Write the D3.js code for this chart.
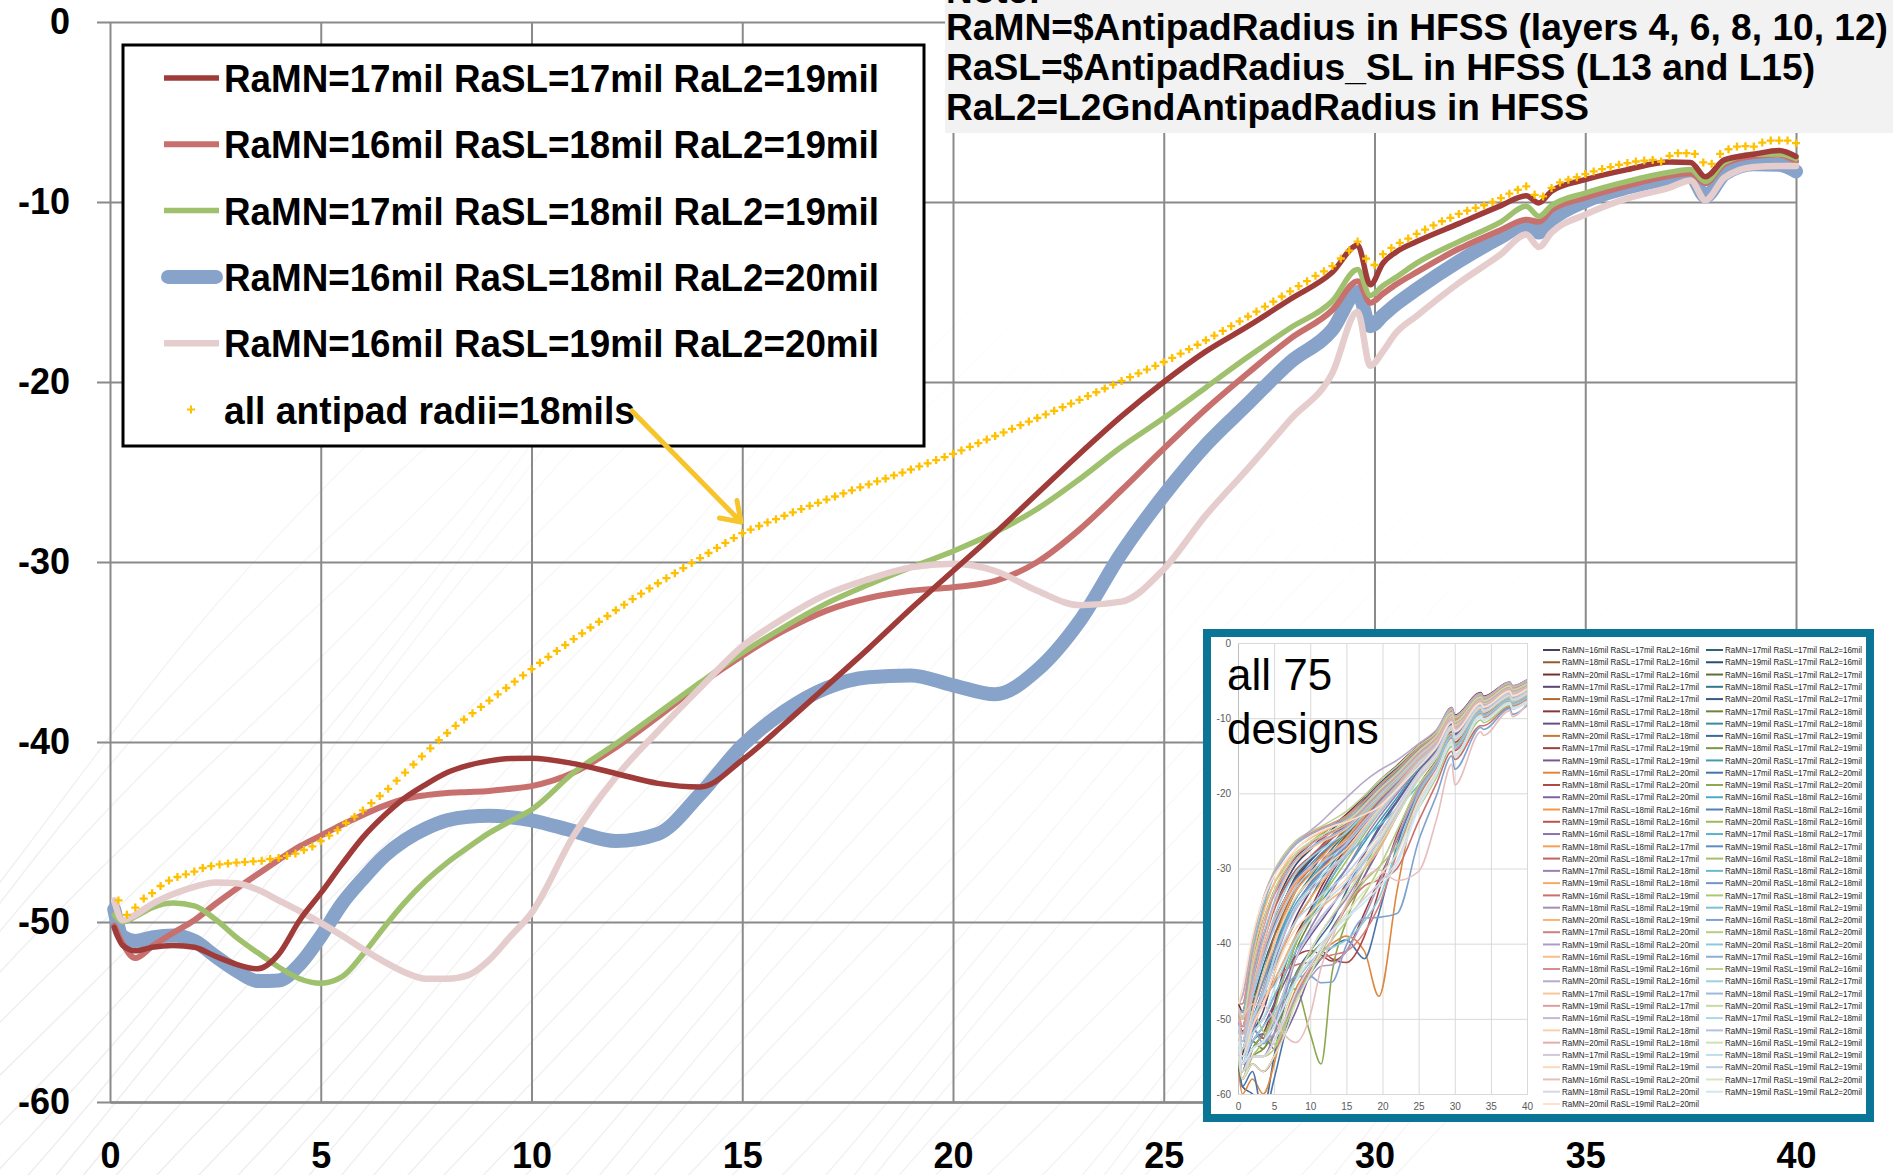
<!DOCTYPE html>
<html>
<head>
<meta charset="utf-8">
<script src="https://cdn.jsdelivr.net/npm/d3@7/dist/d3.min.js"></script>
<style>
html,body{margin:0;padding:0;background:#fff;}
svg{display:block;}
text{font-family:"Liberation Sans",Arial,Helvetica,sans-serif;}
</style>
</head>
<body>
<svg id="chart" width="1893" height="1175"></svg>
<script>
// ================= DATA =================
const xTicks=[0,5,10,15,20,25,30,35,40];
const yTicks=[0,-10,-20,-30,-40,-50,-60];

// frequency points (GHz) of the five line series
const lineFreq=[0.1,0.3,0.6,1,1.5,2,2.5,3,3.5,4,4.5,5,5.5,6,6.5,7,7.5,8,8.5,9,9.5,10,11,12,13,14,15,16,17,18,19,20,21,22,23,24,25,26,27,28,29,29.6,29.9,30.2,30.5,31,32,33,33.6,33.9,34.2,35,36,37,37.5,37.85,38.3,39,39.6,40];

const sMN17SL17L219=[-50.3,-51.3,-51.6,-51.4,-51.3,-51.4,-51.9,-52.35,-52.6,-51.8,
 -49.9,-48.4,-46.8,-45.3,-44.1,-43.1,-42.35,-41.7,-41.3,-41.05,
 -40.92,-40.9,-41.2,-41.75,-42.3,-42.5,-41.0,-39.0,-36.9,-34.8,
 -32.6,-30.5,-28.4,-26.2,-24.0,-21.9,-20.0,-18.3,-16.9,-15.4,
 -13.9,-12.4,-14.6,-13.4,-12.8,-12.2,-11.2,-10.2,-9.65,-10.05,
 -9.4,-8.76,-8.2,-7.78,-7.8,-8.6,-7.66,-7.35,-7.14,-7.47];
const sMN16SL18L219=[-50.2,-51.2,-52.0,-51.35,-50.6,-49.9,-49.0,-48.15,-47.35,-46.55,
 -45.8,-45.2,-44.6,-44.05,-43.55,-43.15,-42.95,-42.83,-42.78,-42.72,
 -42.6,-42.45,-41.7,-40.3,-38.6,-36.8,-35.2,-33.8,-32.7,-32.0,
 -31.6,-31.4,-31.05,-30.0,-28.2,-26.0,-23.7,-21.5,-19.5,-17.6,
 -16.0,-14.4,-15.6,-15.1,-14.6,-13.9,-12.6,-11.55,-10.98,-11.1,
 -10.45,-9.76,-9.1,-8.55,-8.4,-8.95,-7.9,-7.45,-7.38,-7.75];
const sMN17SL18L219=[-49.6,-50.0,-49.7,-49.2,-48.95,-49.1,-49.85,-50.85,-51.7,-52.5,
 -53.15,-53.4,-53.05,-51.8,-50.3,-48.9,-47.7,-46.7,-45.85,-45.05,
 -44.4,-43.76,-41.7,-40.1,-38.4,-36.7,-35.05,-33.6,-32.3,-31.25,
 -30.3,-29.4,-28.35,-27.05,-25.4,-23.6,-22.0,-20.3,-18.6,-17.0,
 -15.5,-13.75,-15.2,-14.65,-14.2,-13.4,-12.2,-11.1,-10.24,-10.8,
 -10.2,-9.5,-8.85,-8.35,-8.2,-8.86,-7.8,-7.35,-7.34,-7.6];
const sMN16SL18L220=[-49.3,-50.8,-51.05,-50.85,-50.75,-51.05,-51.9,-52.7,-53.28,-53.25,
 -52.35,-50.8,-49.0,-47.6,-46.35,-45.45,-44.8,-44.35,-44.15,-44.1,
 -44.18,-44.35,-44.95,-45.5,-45.1,-42.9,-40.2,-38.3,-37.0,-36.4,
 -36.3,-36.85,-37.35,-36.0,-33.3,-29.5,-26.3,-23.5,-21.2,-18.9,
 -17.1,-15.0,-16.9,-16.3,-15.7,-14.85,-13.3,-11.95,-11.25,-11.7,
 -11.0,-9.96,-9.2,-8.7,-8.55,-9.7,-8.45,-7.9,-7.93,-8.3];
const sMN16SL19L220=[-48.8,-49.9,-49.6,-49.0,-48.45,-48.05,-47.8,-47.85,-48.2,-48.8,
 -49.4,-50.05,-50.75,-51.5,-52.2,-52.8,-53.15,-53.15,-52.95,-52.1,
 -50.8,-49.5,-45.2,-41.95,-39.4,-37.0,-34.7,-33.1,-31.8,-30.95,
 -30.3,-30.1,-30.5,-31.6,-32.4,-32.2,-30.4,-27.4,-24.8,-22.1,
 -19.5,-16.1,-19.1,-18.3,-17.3,-16.33,-14.5,-12.9,-11.8,-12.5,
 -11.7,-10.7,-9.8,-9.2,-8.8,-9.9,-8.65,-8.05,-8.0,-8.0];

const seriesNames=["RaMN=17mil RaSL=17mil RaL2=19mil","RaMN=16mil RaSL=18mil RaL2=19mil","RaMN=17mil RaSL=18mil RaL2=19mil","RaMN=16mil RaSL=18mil RaL2=20mil","RaMN=16mil RaSL=19mil RaL2=20mil"];
const seriesValues=[sMN17SL17L219,sMN16SL18L219,sMN17SL18L219,sMN16SL18L220,sMN16SL19L220];
const seriesColors=["#9F3B39","#C8706E","#9FC06C","#88A3CA","#E6CDCD"];
const seriesWidths=[5.5,6,5.5,14,6.5];
const drawOrder=[3,1,2,4,0];

// "all antipad radii = 18 mils": one marker every 0.2 GHz from 0.2 to 40 GHz
const allAntipadName="all antipad radii=18mils";
const sweepFreq=d3.range(1,201).map(i=>Math.round(i*2)/10);
const allAntipad18=[-48.8,-49.6,-49.2,-48.7,-48.4,-48.0,-47.7,-47.5,-47.35,-47.2,
 -47.0,-46.9,-46.8,-46.75,-46.7,-46.67,-46.63,-46.6,-46.5,-46.45,
 -46.33,-46.2,-46.0,-45.8,-45.5,-45.2,-44.9,-44.5,-44.15,-43.8,
 -43.4,-43.0,-42.6,-42.15,-41.7,-41.25,-40.8,-40.35,-39.9,-39.5,
 -39.1,-38.75,-38.4,-38.05,-37.7,-37.35,-37.0,-36.65,-36.3,-35.95,
 -35.6,-35.27,-34.94,-34.61,-34.28,-33.96,-33.64,-33.32,-33.0,-32.68,
 -32.37,-32.06,-31.76,-31.47,-31.18,-30.9,-30.62,-30.34,-30.06,-29.78,
 -29.5,-29.22,-28.94,-28.67,-28.4,
 -28.2,-28.0,-27.8,-27.62,-27.43,-27.24,-27.06,-26.88,-26.71,-26.53,
 -26.36,-26.19,-26.02,-25.85,-25.69,-25.52,-25.36,-25.19,-25.03,-24.86,
 -24.69,-24.52,-24.34,-24.17,-23.99,
 -23.8,-23.6,-23.4,-23.2,-23.0,-22.8,-22.6,-22.4,-22.2,-22.0,
 -21.8,-21.6,-21.4,-21.2,-20.99,-20.78,-20.57,-20.36,-20.15,-19.94,
 -19.73,-19.52,-19.31,-19.1,-18.89,
 -18.66,-18.42,-18.18,-17.93,-17.68,-17.42,-17.16,-16.9,-16.63,-16.36,
 -16.09,-15.81,-15.53,-15.25,-14.96,-14.67,
 -14.4,-14.1,-13.85,-13.56,-13.14,-12.7,-12.2,-13.15,-13.5,
 -12.9,-12.55,-12.27,-12.03,-11.77,-11.53,-11.3,-11.07,-10.88,-10.66,
 -10.48,-10.33,-10.18,-10.0,-9.78,-9.54,-9.32,-9.13,-9.6,-9.69,
 -9.22,-8.91,-8.76,-8.62,-8.45,-8.3,-8.17,-8.06,-7.93,-7.84,
 -7.75,-7.7,-7.66,-7.75,-7.44,-7.29,-7.29,-7.33,-7.8,-7.88,
 -7.33,-7.07,-6.92,-6.9,-6.92,-6.7,-6.59,-6.59,-6.59,-6.73];

const noteLines=["Note:","RaMN=$AntipadRadius in HFSS (layers 4, 6, 8, 10, 12)","RaSL=$AntipadRadius_SL in HFSS (L13 and L15)","RaL2=L2GndAntipadRadius in HFSS"];

// ---- inset: all 75 designs ----
const insetTitle=["all 75","designs"];
const insetRaSL=[17,18,19];
const insetRaL2=[16,17,18,19,20];
const insetRaMN=[16,17,18,19,20];
const insetFreq=[0.1,0.6,2,3.5,5,6.5,8,10,11.5,13,15,17.5,19.5,22,25,27.5,29.6,30,33.6,34,37.6,38,40];
const insetSeries=[
[-57,-55,-47,-41,-37,-34,-31.5,-29,-27.5,-26,-24,-21.5,-19.5,-17.2,-14.3,-12.2,-9.2,-10.2,-7.1,-7.6,-5.6,-6.1,-5.3],
[-52,-54,-48,-43,-39,-36,-33,-30.5,-28.5,-26.8,-24.6,-22,-20,-17.6,-14.6,-12.5,-9.4,-10.4,-7.3,-7.8,-5.8,-6.3,-5.5],
[-50,-52,-46,-41,-37,-34,-31,-28.8,-27,-25.6,-23.8,-21.3,-19.3,-17,-14.1,-12,-9,-10,-7,-7.5,-5.5,-6,-5.2],
[-49,-50,-44,-39,-35,-32,-29.5,-27.5,-26,-24.8,-23.2,-20.8,-18.8,-16.6,-13.8,-11.8,-8.8,-9.8,-6.8,-7.3,-5.3,-5.8,-5],
[-48,-49,-42,-37,-33,-30.5,-28.5,-26.8,-25.5,-24.4,-22.8,-20.4,-18.4,-16.3,-13.6,-11.6,-8.6,-9.6,-6.6,-7.1,-5.2,-5.7,-4.9],
[-55,-57,-51,-46,-42,-38,-35,-32,-30,-28,-25.5,-22.6,-20.4,-18,-14.9,-12.7,-9.6,-10.7,-7.5,-8,-6,-6.5,-5.7],
[-54,-56,-52,-49,-44,-40,-36.5,-33,-30.5,-28.3,-25.8,-22.9,-20.6,-18.1,-15,-12.8,-9.7,-10.8,-7.6,-8.1,-6.1,-6.6,-5.8],
[-52,-54,-50,-46,-41,-37,-34,-31.2,-29.2,-27.4,-25.2,-22.4,-20.2,-17.8,-14.8,-12.6,-9.5,-10.6,-7.4,-7.9,-5.9,-6.4,-5.6],
[-51,-53,-48,-44,-39,-35.5,-32.5,-30,-28.2,-26.7,-24.7,-22,-19.9,-17.5,-14.5,-12.4,-9.3,-10.4,-7.2,-7.7,-5.7,-6.2,-5.4],
[-50,-52,-46,-42,-37,-34,-31.2,-29,-27.4,-26,-24.2,-21.6,-19.6,-17.3,-14.3,-12.2,-9.1,-10.2,-7.1,-7.6,-5.6,-6.1,-5.3],
[-56,-58,-54,-52,-48,-43,-39,-35.5,-32.5,-30,-27.3,-24,-21.5,-18.8,-15.5,-13.2,-10,-11.2,-7.8,-8.3,-6.3,-6.8,-6],
[-55,-57,-53,-54,-50,-46,-41,-37,-34,-31.2,-28.2,-24.6,-22,-19.2,-15.8,-13.4,-10.2,-11.4,-7.9,-8.4,-6.4,-6.9,-6.1],
[-54,-56,-52,-50,-47,-44,-40,-36,-33.2,-30.6,-27.7,-24.3,-21.7,-19,-15.6,-13.3,-10.1,-11.3,-7.8,-8.3,-6.3,-6.8,-6],
[-53,-55,-51,-47,-43,-40,-37,-34,-31.5,-29.4,-26.9,-23.7,-21.3,-18.7,-15.4,-13.1,-9.9,-11.1,-7.7,-8.2,-6.2,-6.7,-5.9],
[-52,-54,-49,-45,-41,-38,-35,-32.4,-30.3,-28.5,-26.2,-23.2,-20.9,-18.4,-15.2,-12.9,-9.8,-10.9,-7.6,-8.1,-6.1,-6.6,-5.8],
[-56,-59,-60,-62,-55,-48,-44,-41,-39,-37,-33,-28,-24.5,-21,-17,-14.2,-10.8,-12.2,-8.3,-8.8,-6.8,-7.4,-6.5],
[-50.3,-51.6,-51.4,-52.6,-48.4,-44.1,-41.7,-40.9,-41.5,-42.3,-41,-35.9,-31.5,-26.2,-20,-16.2,-12.4,-14.3,-9.65,-10,-7.9,-8.4,-7.5],
[-54,-57,-55,-54,-52,-48,-44,-41.5,-40,-38.5,-35,-30,-26,-22,-17.6,-14.6,-11,-12.4,-8.4,-8.9,-6.9,-7.5,-6.6],
[-53,-56,-53,-51,-48,-45,-42,-39,-37,-35,-32,-28,-24.8,-21.2,-17,-14.3,-10.8,-12.1,-8.3,-8.8,-6.7,-7.3,-6.5],
[-52,-55,-51,-48,-45,-42,-39,-36.5,-34.5,-32.5,-30,-26.5,-23.8,-20.6,-16.6,-14,-10.6,-11.9,-8.1,-8.6,-6.6,-7.1,-6.3],
[-57,-60,-58,-60,-56,-50,-46,-43,-41,-40,-39,-41,-47,-33,-19.5,-15.8,-12,-13.5,-9,-9.5,-7.4,-8,-7.2],
[-56,-59,-57,-63,-58,-52,-47,-44,-42,-40.5,-39.5,-42,-36,-27,-19.5,-15.8,-12,-13.5,-9,-9.5,-7.4,-8,-7.2],
[-55,-58,-56,-57,-55,-51,-47,-43,-41,-42,-42.5,-39,-33,-25.5,-19,-15.5,-11.8,-13.2,-8.9,-9.4,-7.3,-7.9,-7.1],
[-54,-57,-54,-52,-50,-47,-46,-52,-56,-44,-37,-31,-27,-22.5,-17.8,-14.8,-11.2,-12.6,-8.6,-9.1,-7,-7.6,-6.8],
[-53,-56,-53,-52,-54,-52,-49,-44,-41,-38,-35,-31,-27.5,-23,-18,-15,-11.3,-12.7,-8.6,-9.1,-7,-7.6,-6.8],
[-53,-55,-49,-44,-40,-37,-34,-31.5,-29.7,-28,-26,-23,-20.8,-18.3,-15.2,-13,-9.8,-11,-7.6,-8.1,-6.1,-6.6,-5.8],
[-51,-53,-46,-41,-37.5,-34.5,-32,-30,-28.5,-27,-25.2,-22.4,-20.3,-17.9,-14.9,-12.7,-9.6,-10.8,-7.4,-7.9,-5.9,-6.4,-5.6],
[-50,-51,-44,-39,-35,-32.5,-30.5,-28.6,-27.3,-26,-24.5,-21.9,-19.9,-17.6,-14.6,-12.5,-9.4,-10.6,-7.3,-7.8,-5.8,-6.3,-5.5],
[-49,-50,-43,-37,-33.5,-31,-29,-27.4,-26.2,-25.1,-23.8,-21.4,-19.4,-17.2,-14.3,-12.2,-9.2,-10.3,-7.1,-7.6,-5.6,-6.1,-5.3],
[-48,-48,-41,-35.5,-32,-29.8,-28,-26.5,-25.4,-24.4,-23.2,-21,-19,-16.9,-14,-12,-9,-10.1,-6.9,-7.4,-5.4,-5.9,-5.1],
[-55,-57,-52,-47,-42.5,-38.5,-35,-32,-30,-28.4,-26.4,-23.4,-21.1,-18.6,-15.4,-13.2,-10,-11.2,-7.8,-8.3,-6.3,-6.8,-6],
[-53,-56,-51,-47,-42,-38,-35,-32.5,-30.6,-28.9,-26.8,-23.7,-21.4,-18.8,-15.6,-13.3,-10.1,-11.3,-7.9,-8.4,-6.4,-6.9,-6.1],
[-52,-54,-49,-45,-40,-36,-33,-30.8,-29.2,-27.8,-25.9,-23,-20.8,-18.4,-15.3,-13.1,-9.9,-11.1,-7.7,-8.2,-6.2,-6.7,-5.9],
[-51,-53,-47,-42,-37.5,-34,-31.5,-29.5,-28,-26.8,-25.1,-22.4,-20.4,-18,-15,-12.8,-9.7,-10.9,-7.5,-8,-6,-6.5,-5.7],
[-50,-51,-45,-40,-35.5,-32.5,-30.2,-28.4,-27.1,-26,-24.4,-21.9,-20,-17.7,-14.7,-12.6,-9.5,-10.7,-7.4,-7.9,-5.9,-6.4,-5.6],
[-56,-58,-55,-53,-49,-44,-40,-36.5,-34,-31.8,-29,-25.4,-22.7,-19.8,-16.2,-13.8,-10.5,-11.8,-8.2,-8.7,-6.6,-7.2,-6.3],
[-55,-58,-55,-55,-52,-47,-42,-38,-35.5,-33,-30,-26,-23.2,-20.1,-16.4,-14,-10.6,-11.9,-8.3,-8.8,-6.7,-7.3,-6.4],
[-48.8,-49.2,-47.2,-46.6,-45.5,-42.8,-39.5,-35.95,-33.5,-31.2,-28.4,-26.1,-24.3,-22,-18.9,-15.7,-12.2,-13.5,-9.13,-9.69,-7.33,-7.88,-6.73],
[-53,-55,-51,-48,-44,-40,-37,-34,-32,-30.2,-27.8,-24.6,-22.1,-19.4,-15.9,-13.6,-10.3,-11.6,-8,-8.5,-6.5,-7,-6.2],
[-52,-54,-49,-45,-41,-37.5,-34.7,-32.2,-30.5,-29,-26.9,-23.9,-21.6,-19,-15.6,-13.3,-10.1,-11.3,-7.8,-8.3,-6.3,-6.8,-6],
[-50.2,-52,-49.9,-47.35,-45.2,-43.55,-42.83,-42.45,-41,-38.6,-35.2,-32.3,-31.5,-30,-23.7,-18.6,-14.4,-15.5,-11,-11,-8.5,-8.8,-7.75],
[-49.6,-49.7,-49.1,-51.7,-53.4,-50.3,-46.7,-43.8,-41,-38.4,-35,-31.7,-29.8,-27,-22,-17.8,-13.75,-15.1,-10.24,-10.6,-8.3,-8.6,-7.6],
[-54,-57,-54,-53,-51,-48,-44.5,-41,-38.5,-36.5,-34,-30,-27,-23,-18,-15,-11.4,-12.8,-8.7,-9.2,-7.1,-7.7,-6.8],
[-53,-56,-52,-50,-47,-44,-41,-38.5,-36.5,-34.8,-32.5,-29,-26,-22.3,-17.6,-14.8,-11.2,-12.6,-8.6,-9.1,-7,-7.6,-6.7],
[-52,-55,-51,-48,-45,-42,-39,-36.8,-35.2,-34,-32.5,-30,-27.5,-23,-17.8,-14.9,-11.3,-12.7,-8.6,-9.1,-7,-7.6,-6.7],
[-49.3,-51,-51,-53.3,-50.8,-46.35,-44.35,-44.35,-45.2,-45.1,-40.2,-36.6,-36.5,-36,-26.3,-20.2,-15,-16.8,-11.25,-11.5,-8.7,-9.5,-8.3],
[-55,-58,-56,-57,-55,-51,-47,-43.5,-42,-41.5,-41,-38.5,-35,-28,-20.5,-16.5,-12.6,-14.2,-9.4,-9.9,-7.7,-8.4,-7.5],
[-54,-57,-55,-55,-54,-51,-47.5,-44,-41.5,-39.5,-37,-33.5,-30,-25,-19,-15.7,-12,-13.5,-9,-9.5,-7.4,-8,-7.1],
[-53,-56,-54,-53,-52,-50,-47,-44.5,-43,-42.8,-41,-36.5,-32,-26,-19.5,-16,-12.2,-13.7,-9.1,-9.6,-7.5,-8.1,-7.2],
[-52,-55,-53,-51,-49,-47,-45,-42.5,-41,-40.5,-39.5,-37,-34,-27.5,-20,-16.3,-12.4,-13.9,-9.2,-9.7,-7.6,-8.2,-7.3],
[-50,-50,-42,-36,-32,-29.5,-27.5,-26,-25.2,-24.5,-23.6,-21.6,-19.6,-17.4,-14.5,-12.4,-9.4,-10.6,-7.3,-7.8,-5.8,-6.3,-5.5],
[-49,-49,-41,-35,-31,-28.5,-26.8,-25.5,-24.8,-24.2,-23.4,-21.4,-19.4,-17.2,-14.3,-12.2,-9.2,-10.4,-7.1,-7.6,-5.6,-6.1,-5.3],
[-48,-48,-40,-34,-30.5,-28,-26.5,-25.3,-24.6,-24,-23,-21,-19,-16.8,-14,-12,-9,-10.2,-7,-7.5,-5.5,-6,-5.1],
[-48,-47,-40,-34,-30.3,-28,-26.3,-25.1,-24.4,-23.6,-22.4,-20.3,-18.4,-16.4,-13.7,-11.8,-8.8,-9.9,-6.8,-7.3,-5.3,-5.8,-5],
[-48,-47,-39.5,-34,-30.5,-28.3,-26.6,-25,-23.8,-22.4,-20.6,-18.4,-17,-15.6,-13.4,-11.5,-8.6,-9.7,-6.7,-7.2,-5.2,-5.7,-4.9],
[-52,-54,-47,-41,-36.5,-33,-30.5,-28.6,-27.5,-26.5,-25.2,-22.7,-20.6,-18.3,-15.2,-13,-9.8,-11,-7.6,-8.1,-6.1,-6.6,-5.8],
[-51,-53,-46,-40,-35,-31.5,-29,-27.4,-26.5,-25.8,-24.7,-22.3,-20.3,-18,-15,-12.8,-9.7,-10.9,-7.5,-8,-6,-6.5,-5.7],
[-50,-52,-45,-39,-34.5,-31,-28.8,-27.2,-26.3,-25.6,-24.5,-22.1,-20.1,-17.8,-14.8,-12.6,-9.5,-10.7,-7.4,-7.9,-5.9,-6.4,-5.6],
[-49,-51,-44,-38,-33.5,-30.5,-28.3,-26.8,-25.9,-25.2,-24.2,-21.8,-19.8,-17.6,-14.6,-12.5,-9.4,-10.6,-7.3,-7.8,-5.8,-6.3,-5.5],
[-49,-50,-43,-37,-33,-30,-28,-26.5,-25.6,-24.9,-23.9,-21.6,-19.6,-17.4,-14.4,-12.3,-9.3,-10.5,-7.2,-7.7,-5.7,-6.2,-5.4],
[-54,-56,-51,-46,-42,-38.5,-35.5,-33,-31.5,-30,-28.3,-25,-22.6,-19.8,-16.2,-13.8,-10.5,-11.8,-8.1,-8.6,-6.6,-7.1,-6.3],
[-53,-55,-50,-47,-42,-38,-35,-32.6,-31,-29.7,-28,-24.8,-22.4,-19.6,-16.1,-13.7,-10.4,-11.7,-8.1,-8.6,-6.5,-7.1,-6.2],
[-52,-54,-49,-44,-40,-36.5,-33.8,-31.6,-30.2,-29,-27.4,-24.4,-22.1,-19.4,-15.9,-13.5,-10.3,-11.5,-8,-8.5,-6.4,-7,-6.1],
[-51,-53,-47,-42,-38,-35,-32.5,-30.5,-29.3,-28.3,-26.8,-24,-21.8,-19.1,-15.7,-13.4,-10.2,-11.4,-7.9,-8.4,-6.3,-6.9,-6],
[-50,-52,-46,-41,-37,-34,-31.7,-29.9,-28.7,-27.7,-26.3,-23.6,-21.5,-18.9,-15.5,-13.2,-10,-11.2,-7.8,-8.3,-6.2,-6.8,-5.9],
[-55,-58,-55,-55,-53,-49,-45,-41,-38.5,-36.3,-33.5,-29.8,-27,-23,-18.2,-15.2,-11.5,-12.9,-8.7,-9.2,-7.1,-7.7,-6.8],
[-54,-57,-54,-53,-50,-46,-42,-38.6,-36.5,-34.8,-32.6,-29.2,-26.5,-22.6,-17.9,-15,-11.4,-12.8,-8.6,-9.1,-7,-7.6,-6.7],
[-53,-56,-52,-50,-46,-42.5,-39.5,-36.8,-35,-33.6,-31.8,-28.7,-26.1,-22.3,-17.7,-14.8,-11.2,-12.6,-8.5,-9,-6.9,-7.5,-6.6],
[-52,-55,-51,-48,-44,-40.5,-38,-36,-34.5,-33.2,-31.4,-28.4,-25.9,-22.1,-17.5,-14.7,-11.1,-12.5,-8.5,-9,-6.9,-7.5,-6.6],
[-51,-54,-50,-47,-43,-39.5,-37,-35,-33.6,-32.4,-30.7,-27.8,-25.4,-21.8,-17.3,-14.5,-11,-12.4,-8.4,-8.9,-6.8,-7.4,-6.5],
[-48.8,-49.6,-48.05,-48.2,-50,-52.2,-53.15,-49.5,-43.2,-39.4,-34.7,-31.3,-30.2,-31.6,-30.4,-23.4,-16.1,-18.9,-11.8,-12.3,-9,-9.8,-8],
[-55,-58,-56,-57,-55,-52,-48,-44,-41,-38.5,-36,-33,-31,-28,-21,-17,-13,-14.8,-9.6,-10.1,-7.9,-8.6,-7.7],
[-54,-57,-55,-55,-53,-50,-46.5,-43,-40.5,-38.5,-36.5,-34,-32,-29,-21.5,-17.2,-13.2,-15,-9.7,-10.2,-8,-8.7,-7.8],
[-53,-56,-54,-53,-51,-48,-45,-42,-40,-38.3,-36.6,-34.5,-32.5,-29.5,-22,-17.5,-13.4,-15.2,-9.8,-10.3,-8.1,-8.8,-7.9],
[-48,-46,-39,-34,-31,-29,-27.5,-25.8,-25,-24.4,-23.8,-22.8,-21.8,-19.5,-16.5,-13.8,-10.5,-11.8,-8,-8.5,-6.4,-7,-6.1]
];
const insetBaseHues=["#8064A2","#4BACC6","#F79646","#4F81BD","#C0504D","#9BBB59"];

// ================= DRAWING =================
const W=1893,H=1175;
const svg=d3.select('#chart');
svg.append('rect').attr('width',W).attr('height',H).attr('fill','#fff');
const tickFmt=d=>String(d); // plain hyphen-minus like the reference

// faint background texture
const defs=svg.append('defs');
const grad=defs.append('linearGradient').attr('id','fadeGrad').attr('x1','0').attr('y1','1').attr('x2','0.62').attr('y2','0.25');
grad.append('stop').attr('offset','0').attr('stop-color','#fff').attr('stop-opacity',1);
grad.append('stop').attr('offset','1').attr('stop-color','#fff').attr('stop-opacity',0);
const mask=defs.append('mask').attr('id','fadeMask').attr('maskUnits','userSpaceOnUse').attr('x',0).attr('y',0).attr('width',W).attr('height',H);
mask.append('rect').attr('width',W).attr('height',H).attr('fill','url(#fadeGrad)');
const deco=svg.append('g').attr('mask','url(#fadeMask)').attr('fill','none').attr('stroke','#000').attr('stroke-opacity',0.08).attr('stroke-width',1.4);
d3.range(48).forEach(k=>{
  const pts=d3.range(0,1.0001,0.05).map(t=>[-320+k*36+t*880+16*Math.sin(t*7+k*0.9),1230-t*980+12*Math.cos(t*5+k)]);
  deco.append('path').attr('d',d3.line().curve(d3.curveBasis)(pts));
});

const x=d3.scaleLinear().domain([0,40]).range([110,1796]);
const y=d3.scaleLinear().domain([-60,0]).range([1102,22]);

// grid + axes
const gx=svg.append('g').attr('transform',`translate(0,${y(-60)})`)
  .call(d3.axisBottom(x).tickValues(xTicks).tickSize(-(y(-60)-y(0))).tickSizeOuter(0).tickPadding(40).tickFormat(tickFmt));
gx.select('.domain').attr('stroke','#8a8a8a').attr('stroke-width',2.5);
gx.selectAll('.tick line').attr('stroke','#8a8a8a').attr('stroke-width',2);
gx.selectAll('.tick text').attr('font-size',36).attr('font-weight','bold').attr('fill','#000').attr('font-family','"Liberation Sans",Arial,sans-serif');

const gy=svg.append('g').attr('transform',`translate(97,0)`)
  .call(d3.axisLeft(y).tickValues(yTicks).tickSize(-(x(40)-97)).tickPadding(27).tickFormat(tickFmt));
gy.select('.domain').remove();
gy.selectAll('.tick line').attr('stroke','#8a8a8a').attr('stroke-width',2);
gy.selectAll('.tick text').attr('font-size',36).attr('font-weight','bold').attr('fill','#000').attr('font-family','"Liberation Sans",Arial,sans-serif');

// series lines
const lineGen=d3.line().x(d=>x(d[0])).y(d=>y(d[1])).curve(d3.curveMonotoneX);
drawOrder.forEach(i=>{
  const pts=lineFreq.map((f,j)=>[f,seriesValues[i][j]]);
  svg.append('path').attr('d',lineGen(pts)).attr('fill','none')
    .attr('stroke',seriesColors[i]).attr('stroke-width',seriesWidths[i])
    .attr('stroke-linejoin','round').attr('stroke-linecap','round');
});

// plus markers
const n=Math.min(sweepFreq.length,allAntipad18.length);
const plusG=svg.append('g').attr('stroke','#FFC000').attr('stroke-width',2.3).attr('fill','none');
for(let i=0;i<n;i++){
  const px=x(sweepFreq[i]),py=y(allAntipad18[i]);
  plusG.append('path').attr('d',`M${px-4},${py}H${px+4}M${px},${py-4}V${py+4}`);
}

// legend
const lg=svg.append('g');
lg.append('rect').attr('x',123).attr('y',45).attr('width',801).attr('height',401).attr('fill','#fff').attr('stroke','#000').attr('stroke-width',3);
seriesNames.forEach((nm,i)=>{
  const base=92+i*66.3;
  lg.append('line').attr('x1',i===3?168:164).attr('x2',i===3?216:219).attr('y1',base-14).attr('y2',base-14)
    .attr('stroke',seriesColors[i]).attr('stroke-width',seriesWidths[i]).attr('stroke-linecap',i===3?'round':'butt');
  lg.append('text').attr('x',224).attr('y',base).attr('font-size',39).attr('font-weight','bold')
    .attr('textLength',655).attr('lengthAdjust','spacingAndGlyphs').text(nm);
});
{
  const base=92+5*66.3;
  lg.append('path').attr('d',`M187,${base-14}H195M191,${base-18}V${base-10}`).attr('stroke','#FFC000').attr('stroke-width',2);
  lg.append('text').attr('x',224).attr('y',base).attr('font-size',39).attr('font-weight','bold')
    .attr('textLength',411).attr('lengthAdjust','spacingAndGlyphs').text(allAntipadName);
}

// arrow
svg.append('path').attr('d','M632,411L741,522M719.5,518L741,522L737,500.5')
  .attr('fill','none').attr('stroke','#F7C42B').attr('stroke-width',5).attr('stroke-linecap','round').attr('stroke-linejoin','round');

// note box
svg.append('rect').attr('x',945).attr('y',0).attr('width',W-945).attr('height',133).attr('fill','#F2F2F2');
const noteBase=[3,40,80,120];
const noteLen=[null,942,869,643];
noteLines.forEach((t,i)=>{
  const tx=svg.append('text').attr('x',946).attr('y',noteBase[i]).attr('font-size',37).attr('font-weight','bold').attr('fill','#000').text(t);
  if(noteLen[i]) tx.attr('textLength',noteLen[i]).attr('lengthAdjust','spacingAndGlyphs');
});

// ================= INSET =================
const ix=d3.scaleLinear().domain([0,40]).range([1238,1527]);
const iy=d3.scaleLinear().domain([-60,0]).range([1094,643]);
const ig=svg.append('g');
ig.append('rect').attr('x',1207).attr('y',633).attr('width',663).attr('height',485).attr('fill','#fff').attr('stroke','#0B7595').attr('stroke-width',8);

const igx=ig.append('g').attr('transform',`translate(0,${iy(-60)})`)
  .call(d3.axisBottom(ix).tickValues(xTicks).tickSize(-(iy(-60)-iy(0))).tickSizeOuter(0).tickPadding(9).tickFormat(tickFmt));
igx.select('.domain').attr('stroke','#bfbfbf');
igx.selectAll('.tick line').attr('stroke','#d9d9d9');
igx.selectAll('.tick text').attr('font-size',10).attr('fill','#595959').attr('font-family','"Liberation Sans",Arial,sans-serif');
const igy=ig.append('g').attr('transform',`translate(${ix(0)},0)`)
  .call(d3.axisLeft(iy).tickValues(yTicks).tickSize(-(ix(40)-ix(0))).tickSizeOuter(0).tickPadding(7).tickFormat(tickFmt));
igy.select('.domain').attr('stroke','#bfbfbf');
igy.selectAll('.tick line').attr('stroke','#d9d9d9');
igy.selectAll('.tick text').attr('font-size',10).attr('fill','#595959').attr('font-family','"Liberation Sans",Arial,sans-serif');

defs.append('clipPath').attr('id','insetClip').append('rect')
  .attr('x',ix(0)).attr('y',iy(0)).attr('width',ix(40)-ix(0)).attr('height',iy(-60)-iy(0));

function insetColor(i){
  const base=insetBaseHues[i%6];
  const c=Math.floor(i/6);
  if(c<4) return d3.interpolateRgb(base,'#000')((4-c)*0.1);
  return d3.interpolateRgb(base,'#fff')((c-4)*0.09);
}
const insetLabels=[];
insetRaSL.forEach(sl=>insetRaL2.forEach(l2=>insetRaMN.forEach(mn=>insetLabels.push(`RaMN=${mn}mil RaSL=${sl}mil RaL2=${l2}mil`))));

const iLine=d3.line().x(d=>ix(d[0])).y(d=>iy(d[1])).curve(d3.curveMonotoneX);
const ilg=ig.append('g').attr('clip-path','url(#insetClip)');
insetSeries.forEach((vals,i)=>{
  const pts=insetFreq.map((f,j)=>[f,vals[j]]);
  ilg.append('path').attr('d',iLine(pts)).attr('fill','none').attr('stroke',insetColor(i)).attr('stroke-width',1.6).attr('stroke-linejoin','round');
});

ig.append('text').attr('x',1227).attr('y',690).attr('font-size',44).attr('fill','#000').text(insetTitle[0]);
ig.append('text').attr('x',1227).attr('y',744).attr('font-size',44).attr('fill','#000').text(insetTitle[1]);

insetLabels.forEach((lab,i)=>{
  const col=i%2,row=Math.floor(i/2);
  const yy=650+row*12.27;
  const lx=col===0?1543:1706;
  ig.append('line').attr('x1',lx).attr('x2',lx+17).attr('y1',yy).attr('y2',yy).attr('stroke',insetColor(i)).attr('stroke-width',2);
  ig.append('text').attr('x',lx+19).attr('y',yy+3.2).attr('font-size',9).attr('fill','#262626')
    .attr('textLength',137).attr('lengthAdjust','spacingAndGlyphs').text(lab);
});
</script>
</body>
</html>
